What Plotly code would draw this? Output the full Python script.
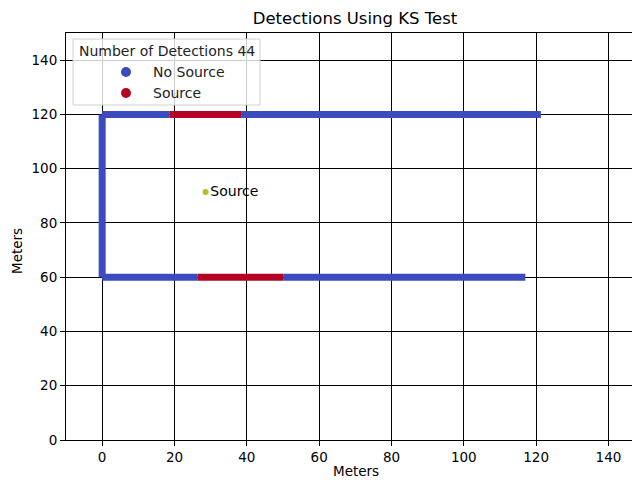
import plotly.graph_objects as go

# Survey path segments: (x_start, x_end, y_start, y_end, detected)
seg_x0 = [0, 26.4, 50.2, 0, 0, 18.7, 38.6]
seg_x1 = [26.4, 50.2, 117, 0, 18.7, 38.6, 121.3]
seg_y0 = [60, 60, 60, 60, 120, 120, 120]
seg_y1 = [60, 60, 60, 120, 120, 120, 120]
seg_detect = [0, 1, 0, 0, 0, 1, 0]

source_x = [28.6]
source_y = [91.4]
n_detections = 44
legend_labels = ["No Source", "Source"]

BLUE = "#3b4cc0"
RED = "#b40426"
FONT = "DejaVu Sans"

W, H = 632, 480
L, R, T, B = 66, 0, 33, 40
PW, PH = W - L - R, H - T - B


def px(x):
    return (x - L) / PW


def py(y):
    return (H - B - y) / PH


fig = go.Figure()

for x0, x1, y0, y1, d in zip(seg_x0, seg_x1, seg_y0, seg_y1, seg_detect):
    fig.add_trace(go.Scatter(
        x=[x0, x1], y=[y0, y1], mode="lines",
        line=dict(color=RED if d else BLUE, width=7),
        showlegend=False, hoverinfo="skip",
    ))

fig.add_trace(go.Scatter(
    x=source_x, y=source_y, mode="markers+text", text=["Source"],
    textposition="middle right",
    textfont=dict(family=FONT, size=14, color="black"),
    marker=dict(color="#bcbd22", size=6), showlegend=False,
))

# Legend box drawn in paper coordinates
shapes = [dict(type="rect", xref="paper", yref="paper", layer="above",
               x0=px(73), x1=px(260), y0=py(105), y1=py(39),
               line=dict(color="#d0d0d0", width=1),
               fillcolor="rgba(255,255,255,0.8)")]
annotations = [dict(text=f"Number of Detections {n_detections}", xref="paper", yref="paper",
                    x=px(167), y=py(51), xanchor="center", yanchor="middle",
                    showarrow=False, font=dict(family=FONT, size=14, color="#222"))]
for i, (lab, col) in enumerate(zip(legend_labels, [BLUE, RED])):
    cy = 72 + 21 * i
    shapes.append(dict(type="circle", xref="paper", yref="paper", layer="above",
                       x0=px(121), x1=px(131), y0=py(cy + 5), y1=py(cy - 5),
                       line=dict(width=0), fillcolor=col))
    annotations.append(dict(text=lab, xref="paper", yref="paper",
                            x=px(151), y=py(cy), xanchor="left", yanchor="middle",
                            showarrow=False, font=dict(family=FONT, size=14, color="#222")))

# Axis titles
annotations.append(dict(text="Meters", xref="paper", yref="paper",
                        x=px(356), y=py(471), xanchor="center", yanchor="middle",
                        showarrow=False, font=dict(family=FONT, size=13.5, color="black")))
annotations.append(dict(text="Meters", xref="paper", yref="paper", textangle=-90,
                        x=px(17), y=py(251), xanchor="center", yanchor="middle",
                        showarrow=False, font=dict(family=FONT, size=13.5, color="black")))

axis_common = dict(
    showgrid=True, gridcolor="black", gridwidth=1,
    showline=True, linecolor="black", linewidth=1,
    ticks="outside", ticklen=5, tickcolor="black",
    zeroline=False, automargin=False,
    tickfont=dict(family=FONT, size=13.5, color="black"),
)

fig.update_layout(
    width=W, height=H,
    margin=dict(l=L, r=R, t=T, b=B),
    paper_bgcolor="white", plot_bgcolor="white",
    showlegend=False,
    shapes=shapes, annotations=annotations,
    title=dict(text="Detections Using KS Test", x=355 / W, xanchor="center",
               y=1 - 18 / H, yanchor="middle",
               font=dict(family=FONT, size=16.5, color="black")),
    xaxis=dict(range=[-10, 146.5], tickvals=[0, 20, 40, 60, 80, 100, 120, 140],
               mirror=True, **axis_common),
    yaxis=dict(range=[0, 150], tickvals=[0, 20, 40, 60, 80, 100, 120, 140],
               **axis_common),
)

fig.write_html("out.html")
